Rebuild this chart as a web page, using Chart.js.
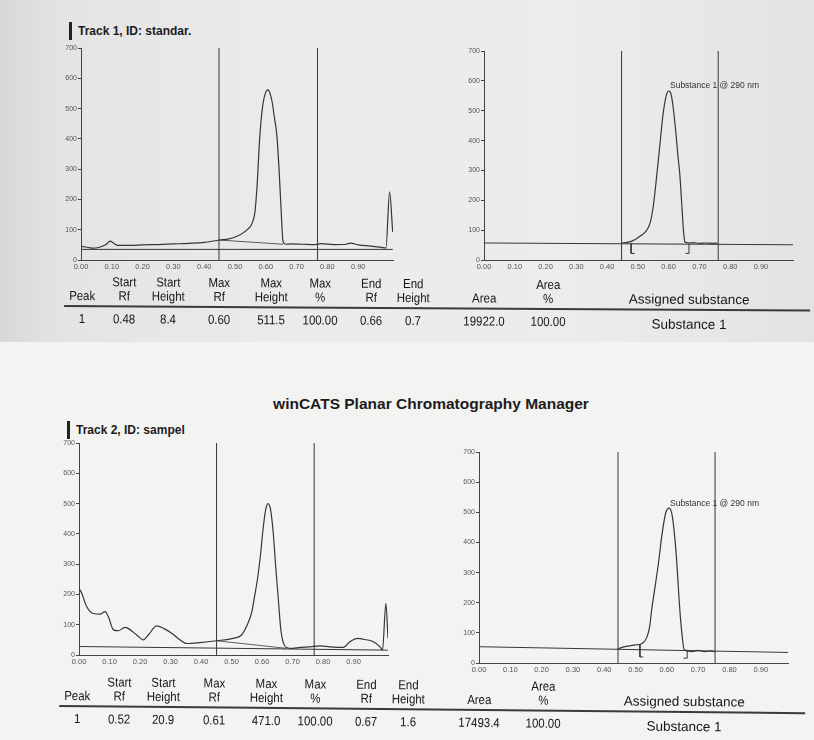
<!DOCTYPE html>
<html>
<head>
<meta charset="utf-8">
<script src="https://cdn.jsdelivr.net/npm/chart.js@4.4.1/dist/chart.umd.min.js"></script>
<style>
  html, body { margin: 0; padding: 0; }
  body {
    width: 814px; height: 740px; position: relative; overflow: hidden;
    background: #f3f3f1;
    font-family: "Liberation Sans", Arial, sans-serif; color: #1c1c1c;
  }
  /* grauer Scanbereich oben */
  .scan-top {
    position: absolute; left: 0; top: 0; width: 814px; height: 342px;
    background: linear-gradient(90deg, #d8d8d8 0, #e4e4e4 8%, #ebebeb 35%, #ececec 70%, #e3e3e3 100%);
  }
  canvas { position: absolute; }
  .track {
    position: absolute; font-weight: bold; font-size: 12px; line-height: 14px;
    white-space: nowrap;
  }
  .track::before {
    content: ""; position: absolute; left: -9px; top: -2px; width: 3px; height: 18px; background: #222;
  }
  .app-title {
    position: absolute; left: 0; width: 862px; top: 395px; text-align: center;
    font-weight: bold; font-size: 15.5px; line-height: 18px;
  }
  .peak-label {
    position: absolute; font-size: 8.5px; line-height: 10px; color: #333; white-space: nowrap;
  }
  .table { position: absolute; left: 0; top: 0; width: 814px; height: 740px; transform-origin: 66px 0; }
  .cell {
    position: absolute; font-size: 13px; line-height: 14px; white-space: nowrap; color: #161616;
    transform: translateX(-50%) scaleX(0.88);
  }
  .cell.wide { transform: translateX(-50%); font-size: 13.5px; }
  .rule { position: absolute; height: 1.5px; background: #3a3a3a; }
</style>
</head>
<body>
<div class="scan-top"></div>

<div class="track" style="left:78px; top:24px">Track 1, ID: standar.</div>
<div class="track" style="left:76px; top:423px">Track 2, ID: sampel</div>
<div class="app-title">winCATS Planar Chromatography Manager</div>

<canvas id="scan1"></canvas>
<canvas id="peak1"></canvas>
<canvas id="scan2"></canvas>
<canvas id="peak2"></canvas>

<div class="peak-label" style="left:670px; top:80px">Substance 1 @ 290 nm</div>
<div class="peak-label" style="left:670px; top:498px">Substance 1 @ 290 nm</div>

<div class="table" id="table1" style="transform: rotate(0.35deg)"></div>
<div class="table" id="table2" style="transform: rotate(0.55deg)"></div>

<script>
// Track 1 (standar.) – Rohscan
const track1Rf = [0, 0.02, 0.04, 0.06, 0.08, 0.095, 0.105, 0.12, 0.16, 0.2, 0.25, 0.3, 0.35, 0.4, 0.45,
  0.48, 0.51, 0.53, 0.545, 0.555, 0.565, 0.572, 0.58, 0.59, 0.6, 0.606, 0.612, 0.62, 0.628, 0.636,
  0.643, 0.65, 0.656, 0.665, 0.68, 0.72, 0.76, 0.78, 0.82, 0.86, 0.875, 0.9, 0.94, 0.975, 0.99, 1.002, 1.012];
const track1Scan = [45, 42, 39, 42, 50, 62, 56, 48, 48, 50, 51, 53, 55, 58, 66,
  70, 80, 92, 105, 120, 160, 250, 400, 510, 555, 562, 555, 525, 470, 410,
  300, 160, 60, 52, 53, 52, 51, 54, 51, 52, 56, 50, 46, 42, 40, 225, 92];
const track1Cuts = [0.448, 0.768];
const track1BaseRf = [0, 1.012];
const track1BaseVal = [35, 35];
const track1SlopeRf = [0.448, 0.656];
const track1SlopeVal = [66, 52];

// Track 1 – integrierter Peak
const peak1Rf = [0.447, 0.47, 0.49, 0.51, 0.525, 0.54, 0.55, 0.56, 0.57, 0.582, 0.592, 0.6, 0.608,
  0.616, 0.624, 0.63, 0.636, 0.643, 0.648, 0.653, 0.665, 0.68, 0.7, 0.72, 0.74, 0.76];
const peak1Val = [57, 60, 68, 82, 95, 125, 180, 270, 370, 490, 550, 566, 555,
  500, 420, 350, 290, 180, 100, 60, 57, 58, 56, 57, 56, 57];
const peak1Cuts = [0.447, 0.761];
const peak1BaseRf = [0, 1.004];
const peak1BaseVal = [57, 51];
const peak1StartRf = [0.478, 0.478, 0.49];
const peak1StartVal = [57, 22, 22];
const peak1EndRf = [0.655, 0.666, 0.666];
const peak1EndVal = [22, 22, 56];

// Track 2 (sampel) – Rohscan
const track2Rf = [0, 0.009, 0.025, 0.047, 0.069, 0.085, 0.096, 0.113, 0.129, 0.15, 0.161, 0.189, 0.211,
  0.227, 0.255, 0.277, 0.304, 0.331, 0.353, 0.397, 0.451, 0.505, 0.533, 0.549, 0.566, 0.575, 0.585,
  0.595, 0.603, 0.612, 0.62, 0.628, 0.636, 0.645, 0.653, 0.662, 0.67, 0.68, 0.7, 0.724, 0.757, 0.79,
  0.822, 0.866, 0.888, 0.915, 0.932, 0.965, 0.987, 0.995, 1.006, 1.013];
const track2Scan = [220, 204, 160, 137, 135, 143, 127, 83, 80, 91, 88, 66, 50,
  66, 96, 88, 72, 50, 38, 41, 47, 55, 66, 94, 140, 190, 250,
  330, 412, 480, 500, 480, 412, 290, 190, 80, 40, 25, 22, 25, 27, 30,
  27, 25, 44, 55, 52, 44, 27, 16, 170, 55];
const track2Cuts = [0.451, 0.771];
const track2BaseRf = [0, 1.013];
const track2BaseVal = [28, 16];
const track2SlopeRf = [0.451, 0.68];
const track2SlopeVal = [47, 22];

// Track 2 – integrierter Peak
const peak2Rf = [0.444, 0.47, 0.5, 0.515, 0.525, 0.536, 0.545, 0.552, 0.562, 0.573, 0.585, 0.597, 0.608,
  0.617, 0.625, 0.632, 0.638, 0.644, 0.65, 0.655, 0.665, 0.68, 0.7, 0.72, 0.74, 0.754];
const peak2Val = [48, 55, 60, 62, 68, 85, 120, 180, 250, 330, 430, 500, 514,
  490, 420, 330, 230, 143, 80, 45, 40, 38, 42, 38, 40, 38];
const peak2Cuts = [0.444, 0.754];
const peak2BaseRf = [0, 0.987];
const peak2BaseVal = [54, 35];
const peak2StartRf = [0.514, 0.514, 0.525];
const peak2StartVal = [62, 20, 20];
const peak2EndRf = [0.653, 0.665, 0.665];
const peak2EndVal = [16, 16, 44];

// Peak-Tabellen
const headTop = ["", "Start", "Start", "Max", "Max", "Max", "End", "End", "", "Area", ""];
const headBottom = ["Peak", "Rf", "Height", "Rf", "Height", "%", "Rf", "Height", "Area", "%", "Assigned substance"];
const track1Row = ["1", "0.48", "8.4", "0.60", "511.5", "100.00", "0.66", "0.7", "19922.0", "100.00", "Substance 1"];
const track2Row = ["1", "0.52", "20.9", "0.61", "471.0", "100.00", "0.67", "1.6", "17493.4", "100.00", "Substance 1"];

const INK = "#363636";
const AXIS = "#444";
const TICK = "#555";
const FONT = '"Liberation Sans", Arial, sans-serif';

const pts = (xs, ys) => xs.map((x, i) => ({ x, y: ys[i] }));
const cut = (rf) => [{ x: rf, y: 0 }, { x: rf, y: 700 }];

function line(data, opts = {}) {
  return {
    data,
    borderColor: INK,
    borderWidth: opts.width || 1,
    pointRadius: 0,
    fill: false,
    tension: opts.smooth ? 0.4 : 0,
    cubicInterpolationMode: opts.smooth ? "monotone" : "default",
  };
}

// Diagrammfläche exakt auf die Scan-Position legen
function chromatogram(canvasId, box, xMax, datasets) {
  const padL = 30, padT = 6, padR = 8, padB = 14;
  const canvas = document.getElementById(canvasId);
  canvas.width = box.right - box.left + padL + padR;
  canvas.height = box.bottom - box.top + padT + padB;
  canvas.style.left = box.left - padL + "px";
  canvas.style.top = box.top - padT + "px";

  return new Chart(canvas, {
    type: "line",
    data: { datasets },
    options: {
      responsive: false,
      animation: false,
      events: [],
      layout: { padding: { left: 0, top: padT, right: padR, bottom: 0 } },
      plugins: { legend: { display: false }, tooltip: { enabled: false } },
      scales: {
        x: {
          type: "linear",
          min: 0,
          max: xMax,
          afterFit: (s) => { s.height = padB; },
          grid: { display: false, drawTicks: false },
          border: { color: AXIS, width: 1 },
          ticks: {
            stepSize: 0.1,
            includeBounds: false,
            autoSkip: false,
            maxRotation: 0,
            padding: 2,
            color: TICK,
            font: { family: FONT, size: 7.5 },
            callback: (v) => (v < 0.95 ? v.toFixed(2) : ""),
          },
        },
        y: {
          min: 0,
          max: 700,
          afterFit: (s) => { s.width = padL; },
          grid: { drawOnChartArea: false, tickLength: 3, color: AXIS },
          border: { color: AXIS, width: 1 },
          ticks: { stepSize: 100, padding: 1, color: TICK, font: { family: FONT, size: 7 } },
        },
      },
    },
  });
}

chromatogram("scan1", { left: 81, top: 48, right: 393, bottom: 260 }, 1.013, [
  line(pts(track1Rf, track1Scan), { smooth: true, width: 1.2 }),
  line(cut(track1Cuts[0])),
  line(cut(track1Cuts[1])),
  line(pts(track1BaseRf, track1BaseVal)),
  line(pts(track1SlopeRf, track1SlopeVal), { width: 0.8 }),
]);

chromatogram("peak1", { left: 484, top: 51, right: 793, bottom: 260 }, 1.004, [
  line(pts(peak1Rf, peak1Val), { smooth: true, width: 1.2 }),
  line(cut(peak1Cuts[0])),
  line(cut(peak1Cuts[1])),
  line(pts(peak1BaseRf, peak1BaseVal)),
  line(pts(peak1StartRf, peak1StartVal)),
  line(pts(peak1EndRf, peak1EndVal)),
]);

chromatogram("scan2", { left: 79, top: 443, right: 388, bottom: 655 }, 1.013, [
  line(pts(track2Rf, track2Scan), { smooth: true, width: 1.2 }),
  line(cut(track2Cuts[0])),
  line(cut(track2Cuts[1])),
  line(pts(track2BaseRf, track2BaseVal)),
  line(pts(track2SlopeRf, track2SlopeVal), { width: 0.8 }),
]);

chromatogram("peak2", { left: 479, top: 452, right: 788, bottom: 663 }, 0.987, [
  line(pts(peak2Rf, peak2Val), { smooth: true, width: 1.2 }),
  line(cut(peak2Cuts[0])),
  line(cut(peak2Cuts[1])),
  line(pts(peak2BaseRf, peak2BaseVal)),
  line(pts(peak2StartRf, peak2StartVal)),
  line(pts(peak2EndRf, peak2EndVal)),
]);

// Tabellen: Spaltenmitten und Zeilenhöhen aus dem Scan
const COLS = [84, 126, 170, 221, 273, 322, 373, 415, 486, 550, 691];

function peakTable(id, rowTop, row) {
  const el = document.getElementById(id);
  const place = (text, i, top) => {
    if (!text) return "";
    const wide = i === COLS.length - 1 ? " wide" : "";
    return `<div class="cell${wide}" style="left:${COLS[i]}px; top:${top}px">${text}</div>`;
  };
  let html = "";
  headTop.forEach((t, i) => { html += place(t, i, rowTop); });
  headBottom.forEach((t, i) => { html += place(t, i, rowTop + 14); });
  html += `<div class="rule" style="left:66px; width:746px; top:${rowTop + 30}px"></div>`;
  row.forEach((t, i) => { html += place(t, i, rowTop + 37 + (i === COLS.length - 1 ? 2 : 0)); });
  el.innerHTML = html;
}

peakTable("table1", 275, track1Row);
peakTable("table2", 675, track2Row);
</script>
</body>
</html>
